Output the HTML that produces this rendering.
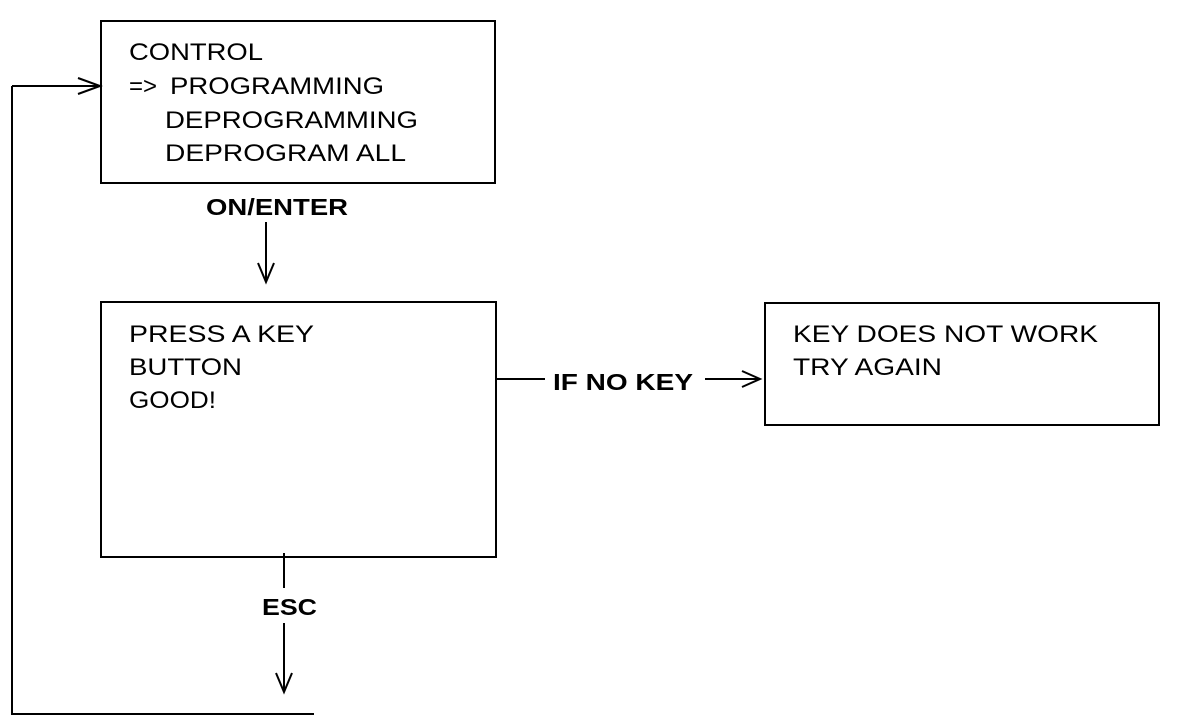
<!DOCTYPE html>
<html><head><meta charset="utf-8"><style>html,body{margin:0;padding:0;background:#fff}svg{display:block}</style></head>
<body>
<svg width="1184" height="722" viewBox="0 0 1184 722" xmlns="http://www.w3.org/2000/svg" font-family="Liberation Sans, sans-serif" fill="#000">
<g fill="none" stroke="#000" stroke-width="2">
<rect x="101" y="21" width="394" height="162"/>
<rect x="101" y="302" width="395" height="255"/>
<rect x="765" y="303" width="394" height="122"/>
<polyline points="12,86 12,714 314,714"/>
<line x1="12" y1="86" x2="100" y2="86"/>
<polyline points="78,78 100,86 78,94"/>
<line x1="266" y1="222" x2="266" y2="282"/>
<polyline points="258,263 266,282 274,263"/>
<line x1="284" y1="553" x2="284" y2="588"/>
<line x1="284" y1="623" x2="284" y2="692"/>
<polyline points="276,673 284,692 292,673"/>
<line x1="496" y1="379" x2="545" y2="379"/>
<line x1="705" y1="379" x2="758" y2="379"/>
<polyline points="742,371 760,379 742,387"/>
</g>
<g font-size="24">
<text x="129" y="60" textLength="134" lengthAdjust="spacingAndGlyphs">CONTROL</text>
<text x="129" y="94">=&gt;</text>
<text x="170" y="94" textLength="214" lengthAdjust="spacingAndGlyphs">PROGRAMMING</text>
<text x="165" y="128" textLength="253" lengthAdjust="spacingAndGlyphs">DEPROGRAMMING</text>
<text x="165" y="161" textLength="241" lengthAdjust="spacingAndGlyphs">DEPROGRAM ALL</text>
<text x="129" y="342" textLength="185" lengthAdjust="spacingAndGlyphs">PRESS A KEY</text>
<text x="129" y="375" textLength="113" lengthAdjust="spacingAndGlyphs">BUTTON</text>
<text x="129" y="408" textLength="87" lengthAdjust="spacingAndGlyphs">GOOD!</text>
<text x="793" y="342" textLength="305" lengthAdjust="spacingAndGlyphs">KEY DOES NOT WORK</text>
<text x="793" y="375" textLength="149" lengthAdjust="spacingAndGlyphs">TRY AGAIN</text>
</g>
<g font-size="23" font-weight="bold">
<text x="206" y="215" textLength="142" lengthAdjust="spacingAndGlyphs">ON/ENTER</text>
<text x="262" y="615" textLength="55" lengthAdjust="spacingAndGlyphs">ESC</text>
<text x="553" y="390" textLength="140" lengthAdjust="spacingAndGlyphs">IF NO KEY</text>
</g>
</svg>
</body></html>
